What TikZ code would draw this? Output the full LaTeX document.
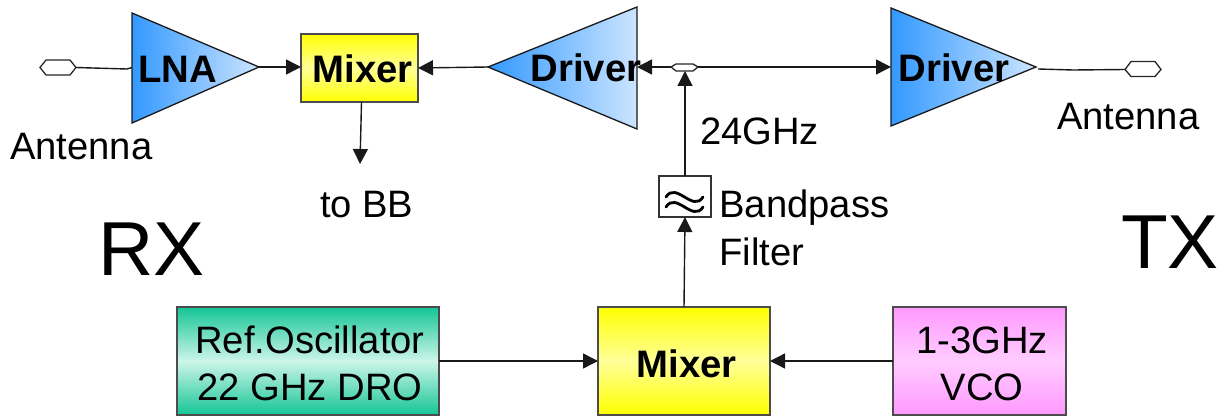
\documentclass[tikz,border=0pt]{standalone}
\usepackage{fontspec}
\setmainfont{Liberation Sans}
\usetikzlibrary{arrows.meta,shadings,calc}
\tikzset{
  conn/.style={draw=black!90,line width=1.4pt},
  arr/.style={conn,-{Triangle[length=15pt,width=15pt]}},
  label/.style={inner sep=0pt,outer sep=0pt,anchor=base west,font=\fontsize{38.2}{40}\selectfont},
  biglabel/.style={inner sep=0pt,outer sep=0pt,anchor=base west,font=\fontsize{76.5}{78}\selectfont},
  boldlabel/.style={inner sep=0pt,outer sep=0pt,anchor=base west,font=\fontsize{38.3}{40}\selectfont\bfseries},
  amp/.style={draw=black!90,line width=1.3pt,line join=miter},
  ampL/.style={amp,left color=blue1,right color=blue2},
  port/.style={draw=black!85,line width=1.3pt,fill=white},
  block/.style={draw=black!70,line width=1.5pt,inner sep=0pt,outer sep=0pt,align=center},
  yellowbox/.style={block,top color=yellow,bottom color=yellow,middle color=yellow!40},
  tealbox/.style={block,top color=teal1,bottom color=teal1,middle color=teal2},
  pinkbox/.style={block,top color=pink1,bottom color=pink1,middle color=pink2},
}
\definecolor{blue1}{HTML}{3399FF}
\definecolor{blue2}{HTML}{CCE5FF}
\definecolor{teal1}{HTML}{14C596}
\definecolor{teal2}{HTML}{CCF5E8}
\definecolor{pink1}{HTML}{FF99FF}
\definecolor{pink2}{HTML}{FFCCFF}
\begin{document}
\begin{tikzpicture}[x=1pt,y=-1pt]
\useasboundingbox (0,0) rectangle (1223,417);
% named anchor points
\coordinate (portA) at (76,67.5);
\coordinate (lnaIn) at (132,67.5);
\coordinate (lnaKink) at (127,69);
\coordinate (lnaOut) at (259,67);
\coordinate (drv1Out) at (488,67);
\coordinate (drv1In) at (637,67);
\coordinate (splitL) at (671,67);
\coordinate (splitR) at (698,67);
\coordinate (splitB) at (685,71);
\coordinate (drv2In) at (891,67);
\coordinate (drv2Out) at (1038,69);
\coordinate (ant2Kink) at (1073,70);
\coordinate (portB) at (1125,69.5);
\coordinate (bbEnd) at (360,164);
% amplifiers
\path[ampL] (132,13) -- (259,67) -- (132,123) -- cycle;
\path[ampL] (637,7) -- (488,67) -- (637,129) -- cycle;
\path[ampL] (891,8) -- (1036,67) -- (891,126) -- cycle;
% ports
\path[port] (40,67.5) -- (46,60) -- (70,60) -- (portA) -- (70,75) -- (46,75) -- cycle;
\path[port] (splitL) -- (676,64) -- (693,64) -- (splitR) -- (693,71) -- (676,71) -- cycle;
\path[port] (portB) -- (1131,61.5) -- (1155,61.5) -- (1161,69.5) -- (1155,76.5) -- (1131,76.5) -- cycle;
% blocks
\node[yellowbox,minimum width=117pt,minimum height=68pt] (mixTop) at (359.5,68) {};
\node[tealbox,minimum width=262pt,minimum height=108pt,font=\fontsize{38.2}{47}\selectfont] (ref) at (308,361) {\rule{0pt}{33pt}\hspace*{4pt}Ref.Oscillator\\\hspace*{4pt}22 GHz DRO};
\node[yellowbox,minimum width=172pt,minimum height=108pt] (mixBot) at (684,361) {};
\node[pinkbox,minimum width=173pt,minimum height=108pt,font=\fontsize{38.2}{47}\selectfont] (vco) at (979.5,361) {\rule{0pt}{33pt}\hspace*{5pt}1-3GHz\\\hspace*{5pt}VCO};
\node[draw=black!80,line width=1.3pt,fill=white,minimum width=52pt,minimum height=41pt,inner sep=0pt,outer sep=0pt] (filter) at (685,196.5) {};
\draw[black,line width=2.8pt,line cap=round]
  ($(filter.center)+(-19,0.5)$) .. controls +(10,-16) and +(-10,16) .. ($(filter.center)+(18,0.5)$)
  ($(filter.center)+(-19,10.5)$) .. controls +(10,-16) and +(-10,16) .. ($(filter.center)+(18,10.5)$);
% connectors
\draw[conn] (portA) -- (lnaKink) -- (lnaIn);
\draw[arr] (lnaOut) -- (mixTop.west |- lnaOut);
\draw[arr] (drv1Out) -- (mixTop.east);
\draw[arr] (mixTop.south) ++(2,0) -- (bbEnd);
\draw[arr] (splitL) -- (drv1In);
\draw[arr] (splitR) -- (drv2In);
\draw[arr] (filter.north) -- (splitB);
\draw[arr] (mixBot.north) -- (filter.south);
\draw[arr] (ref.east) -- (mixBot.west);
\draw[arr] (vco.west) -- (mixBot.east);
\draw[conn] (drv2Out) -- (ant2Kink) -- (portB);
% texts
\node[boldlabel] (tLna) at (138.5,83) {LNA};
\node[boldlabel] (tMixTop) at (312.5,83) {Mixer};
\node[boldlabel] (tDrv1) at (530.5,82) {Driver};
\node[boldlabel] (tDrv2) at (898.5,82) {Driver};
\node[boldlabel] (tMixBot) at (636.5,377) {Mixer};
\node[label] (tAnt1) at (10,160) {Antenna};
\node[label] (tAnt2) at (1057,130) {Antenna};
\node[label] (tBB) at (320,217) {to BB};
\node[label] (t24) at (700,145) {24GHz};
\node[label] (tBand) at (719.5,217) {Bandpass};
\node[label] (tFilt) at (719.5,265) {Filter};
\node[biglabel] (tRX) at (98,275) {RX};
\node[biglabel] (tTX) at (1121,268) {TX};
\end{tikzpicture}
\end{document}
